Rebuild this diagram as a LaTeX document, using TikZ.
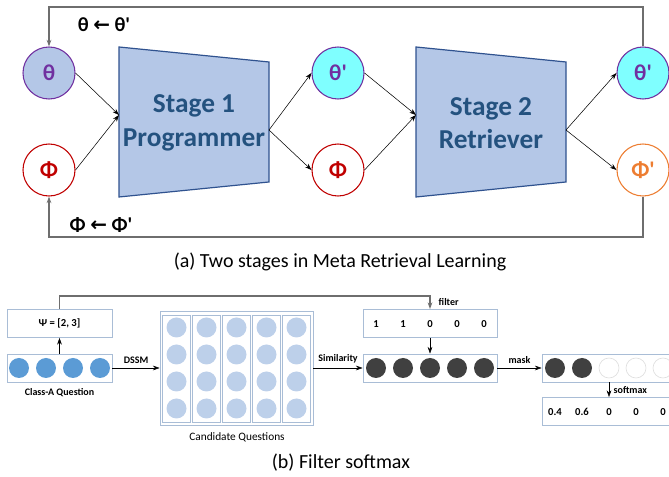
\documentclass[tikz,border=0pt]{standalone}
\usepackage{fontspec}
\setmainfont{Carlito}
\newfontfamily\arrowfont{DejaVu Sans}
\usetikzlibrary{arrows.meta}

\definecolor{trapfill}{HTML}{B4C7E7}
\definecolor{trapline}{HTML}{2F528F}
\definecolor{stageblue}{HTML}{24527F}
\definecolor{thetapurple}{HTML}{7030A0}
\definecolor{phired}{HTML}{C00000}
\definecolor{phiorange}{HTML}{ED7D31}
\definecolor{thetacyan}{HTML}{7FFFFF}
\definecolor{framegray}{HTML}{6E6E6E}
\definecolor{boxblue}{HTML}{A9BDD6}
\definecolor{qblue}{HTML}{5B9BD5}
\definecolor{cblue}{HTML}{BDD0EA}
\definecolor{simdark}{HTML}{404040}

\newcommand{\lar}{{\arrowfont\bfseries ←}}
\newcommand{\pr}{\textquotesingle}

\begin{document}
\begin{tikzpicture}[x=0.75pt,y=-0.75pt,
    >={Stealth[length=5pt,width=3.5pt]},
    var/.style={circle,draw,line width=0.8pt,minimum size=39pt,inner sep=0pt,
      font=\fontsize{17}{17}\selectfont\bfseries},
    stagetxt/.style={align=center,text=stageblue,font=\fontsize{20.5}{25}\selectfont\bfseries},
    feed/.style={draw=framegray,line width=0.9pt},
    lbl/.style={font=\fontsize{7.5}{8}\selectfont\bfseries},
    num/.style={font=\fontsize{8}{8}\selectfont\bfseries,text height=1.5ex,text depth=0.2ex,inner sep=1pt},
    vecbox/.style={draw=boxblue,line width=0.6pt,minimum width=78.75pt,minimum height=21pt,inner sep=0pt},
    wbox/.style={vecbox,minimum width=100.5pt},
    dot/.style={circle,minimum size=15pt,inner sep=0pt},
    caption/.style={font=\fontsize{15}{15}\selectfont}]
  \useasboundingbox (0,0) rectangle (669,477);

  % (a) two stages
  \node[var,draw=thetapurple,fill=trapfill,text=thetapurple] (th1) at (49,73) {θ};
  \node[var,draw=phired,fill=white,text=phired] (ph1) at (49,170) {Φ};
  \node[var,draw=thetapurple,fill=thetacyan,text=thetapurple] (th2) at (338,73) {θ\pr};
  \node[var,draw=phired,fill=white,text=phired] (ph2) at (338,170) {Φ};
  \node[var,draw=thetapurple,fill=thetacyan,text=thetapurple] (th3) at (643,73) {θ\pr};
  \node[var,draw=phiorange,fill=white,text=phiorange] (ph3) at (643,170) {Φ\pr};

  \draw[fill=trapfill,draw=trapline,line width=0.9pt] (119,47) -- (269,62) -- (269,182) -- (119,197) -- cycle;
  \draw[fill=trapfill,draw=trapline,line width=0.9pt] (416,47) -- (566,62) -- (566,182) -- (416,197) -- cycle;
  \node[stagetxt] (st1) at (194,123) {Stage 1\\Programmer};
  \node[stagetxt] (st2) at (491,123) {Stage 2\\Retriever};
  \coordinate (s1in) at (119,115);
  \coordinate (s1out) at (269,130);
  \coordinate (s2in) at (416,115);
  \coordinate (s2out) at (566,130);

  \draw[->] (th1.east) -- (s1in);
  \draw[->] (ph1.east) -- (s1in);
  \draw[->] (s1out) -- (th2.west);
  \draw[->] (s1out) -- (ph2.west);
  \draw[->] (th2.east) -- (s2in);
  \draw[->] (ph2.east) -- (s2in);
  \draw[->] (s2out) -- (th3.west);
  \draw[->] (s2out) -- (ph3.west);

  % feedback loops
  \coordinate (topL) at (49,7);
  \coordinate (botL) at (49,237);
  \draw[feed,->] (th3.north) |- (topL) -- (th1.north);
  \draw[feed,->] (ph3.south) |- (botL) -- (ph1.south);
  \node[font=\fontsize{15}{15}\selectfont\bfseries] (upth) at (104,25) {θ \lar{} θ\pr};
  \node[font=\fontsize{15}{15}\selectfont\bfseries] (upph) at (101,225) {Φ \lar{} Φ\pr};

  \node[caption] (capa) at (340,262) {(a) Two stages in Meta Retrieval Learning};

  % (b) filter softmax
  \node[vecbox] (psi) at (59.5,323.5) {\fontsize{8}{8}\selectfont\bfseries Ψ = [2, 3]};
  \node[vecbox] (qa) at (59.5,368) {};
  \foreach \i in {1,...,4}
    \node[dot,fill=qblue] (qa\i) at (59.5-67.5+27*\i,368) {};
  \node[lbl,below=1pt] (qalbl) at (qa.south) {Class-A Question};

  \node[draw=boxblue,line width=0.6pt,minimum width=114.75pt,minimum height=85.5pt,inner sep=0pt] (cand) at (236.5,368) {};
  \foreach \i in {1,...,5} {
    \node[draw=boxblue,line width=0.6pt,minimum width=21pt,minimum height=80.25pt,inner sep=0pt] (col\i) at (146.5+30*\i,368.5) {};
    \foreach \j in {1,...,4}
      \node[dot,fill=cblue] (cq\i\j) at (146.5+30*\i,300.5+27*\j) {};
  }
  \node[font=\fontsize{8.5}{9}\selectfont] (candlbl) at (237,437) {Candidate Questions};

  \node[wbox] (filter) at (430,323.5) {};
  \foreach \v [count=\i] in {1,1,0,0,0}
    \node[num] (fv\i) at (349+27*\i,323.5) {\v};
  \node[wbox] (sim) at (430,368) {};
  \foreach \i in {1,...,5}
    \node[dot,fill=simdark] (sd\i) at (349+27*\i,368) {};
  \node[wbox] (mask) at (609,368) {};
  \foreach \i in {1,2}
    \node[dot,fill=simdark] (md\i) at (528+27*\i,368) {};
  \foreach \i in {3,4,5}
    \node[dot,draw=gray!25,line width=0.5pt] (md\i) at (528+27*\i,368) {};
  \node[wbox] (soft) at (609,411.5) {};
  \foreach \v [count=\i] in {0.4,0.6,0,0,0}
    \node[num] (sv\i) at (528+27*\i,411.5) {\v};

  \coordinate (fcorner) at (430,296);
  \draw[framegray,line width=0.9pt,->] (psi.north) |- (fcorner) -- (filter.north);
  \node[lbl,anchor=west] (filterlbl) at (434,302) {filter};
  \draw[->] (qa.north) -- (psi.south);
  \draw[->] (qa.east) -- node[lbl,above] (dssm) {DSSM} (cand.west |- qa.east);
  \draw[->] (cand.east |- sim.west) -- node[lbl,above] (simlbl) {Similarity} (sim.west);
  \draw[->] (filter.south) -- (sim.north);
  \draw[->] (sim.east) -- node[lbl,above] (masklbl) {mask} (mask.west);
  \draw[->] (mask.south) -- node[lbl,right] (softlbl) {softmax} (soft.north);

  \node[caption] (capb) at (341,463) {(b) Filter softmax};
\end{tikzpicture}
\end{document}
